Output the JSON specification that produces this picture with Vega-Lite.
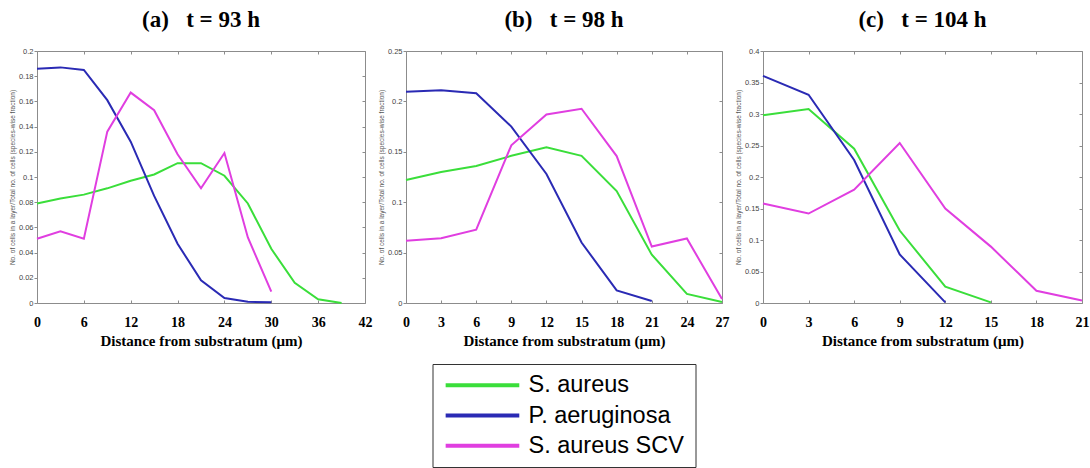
{
  "$schema": "https://vega.github.io/schema/vega-lite/v6.json",
  "padding": {"left": 8, "top": 8, "right": 0, "bottom": 0},
  "background": "white",
  "datasets": {
    "t93": [
      {"species": "S. aureus", "distance": 0, "fraction": 0.079},
      {"species": "S. aureus", "distance": 3, "fraction": 0.083},
      {"species": "S. aureus", "distance": 6, "fraction": 0.086},
      {"species": "S. aureus", "distance": 9, "fraction": 0.091},
      {"species": "S. aureus", "distance": 12, "fraction": 0.097},
      {"species": "S. aureus", "distance": 15, "fraction": 0.102},
      {"species": "S. aureus", "distance": 18, "fraction": 0.111},
      {"species": "S. aureus", "distance": 21, "fraction": 0.111},
      {"species": "S. aureus", "distance": 24, "fraction": 0.101},
      {"species": "S. aureus", "distance": 27, "fraction": 0.079},
      {"species": "S. aureus", "distance": 30, "fraction": 0.043},
      {"species": "S. aureus", "distance": 33, "fraction": 0.016},
      {"species": "S. aureus", "distance": 36, "fraction": 0.003},
      {"species": "S. aureus", "distance": 39, "fraction": 0.0},
      {"species": "P. aeruginosa", "distance": 0, "fraction": 0.186},
      {"species": "P. aeruginosa", "distance": 3, "fraction": 0.187},
      {"species": "P. aeruginosa", "distance": 6, "fraction": 0.185},
      {"species": "P. aeruginosa", "distance": 9, "fraction": 0.161},
      {"species": "P. aeruginosa", "distance": 12, "fraction": 0.128},
      {"species": "P. aeruginosa", "distance": 15, "fraction": 0.085},
      {"species": "P. aeruginosa", "distance": 18, "fraction": 0.047},
      {"species": "P. aeruginosa", "distance": 21, "fraction": 0.018},
      {"species": "P. aeruginosa", "distance": 24, "fraction": 0.004},
      {"species": "P. aeruginosa", "distance": 27, "fraction": 0.001},
      {"species": "P. aeruginosa", "distance": 30, "fraction": 0.0005},
      {"species": "S. aureus SCV", "distance": 0, "fraction": 0.051},
      {"species": "S. aureus SCV", "distance": 3, "fraction": 0.057},
      {"species": "S. aureus SCV", "distance": 6, "fraction": 0.051},
      {"species": "S. aureus SCV", "distance": 9, "fraction": 0.136},
      {"species": "S. aureus SCV", "distance": 12, "fraction": 0.167},
      {"species": "S. aureus SCV", "distance": 15, "fraction": 0.153},
      {"species": "S. aureus SCV", "distance": 18, "fraction": 0.118},
      {"species": "S. aureus SCV", "distance": 21, "fraction": 0.091},
      {"species": "S. aureus SCV", "distance": 24, "fraction": 0.119},
      {"species": "S. aureus SCV", "distance": 27, "fraction": 0.052},
      {"species": "S. aureus SCV", "distance": 30, "fraction": 0.009}
    ],
    "t98": [
      {"species": "S. aureus", "distance": 0, "fraction": 0.122},
      {"species": "S. aureus", "distance": 3, "fraction": 0.130},
      {"species": "S. aureus", "distance": 6, "fraction": 0.136},
      {"species": "S. aureus", "distance": 9, "fraction": 0.146},
      {"species": "S. aureus", "distance": 12, "fraction": 0.1545},
      {"species": "S. aureus", "distance": 15, "fraction": 0.146},
      {"species": "S. aureus", "distance": 18, "fraction": 0.111},
      {"species": "S. aureus", "distance": 21, "fraction": 0.048},
      {"species": "S. aureus", "distance": 24, "fraction": 0.009},
      {"species": "S. aureus", "distance": 27, "fraction": 0.001},
      {"species": "P. aeruginosa", "distance": 0, "fraction": 0.2095},
      {"species": "P. aeruginosa", "distance": 3, "fraction": 0.211},
      {"species": "P. aeruginosa", "distance": 6, "fraction": 0.208},
      {"species": "P. aeruginosa", "distance": 9, "fraction": 0.175},
      {"species": "P. aeruginosa", "distance": 12, "fraction": 0.128},
      {"species": "P. aeruginosa", "distance": 15, "fraction": 0.06},
      {"species": "P. aeruginosa", "distance": 18, "fraction": 0.0125},
      {"species": "P. aeruginosa", "distance": 21, "fraction": 0.002},
      {"species": "S. aureus SCV", "distance": 0, "fraction": 0.0617},
      {"species": "S. aureus SCV", "distance": 3, "fraction": 0.0643},
      {"species": "S. aureus SCV", "distance": 6, "fraction": 0.0727},
      {"species": "S. aureus SCV", "distance": 9, "fraction": 0.1565},
      {"species": "S. aureus SCV", "distance": 12, "fraction": 0.187},
      {"species": "S. aureus SCV", "distance": 15, "fraction": 0.1927},
      {"species": "S. aureus SCV", "distance": 18, "fraction": 0.1458},
      {"species": "S. aureus SCV", "distance": 21, "fraction": 0.056},
      {"species": "S. aureus SCV", "distance": 24, "fraction": 0.064},
      {"species": "S. aureus SCV", "distance": 27, "fraction": 0.004}
    ],
    "t104": [
      {"species": "S. aureus", "distance": 0, "fraction": 0.298},
      {"species": "S. aureus", "distance": 3, "fraction": 0.308},
      {"species": "S. aureus", "distance": 6, "fraction": 0.245},
      {"species": "S. aureus", "distance": 9, "fraction": 0.115},
      {"species": "S. aureus", "distance": 12, "fraction": 0.026},
      {"species": "S. aureus", "distance": 15, "fraction": 0.001},
      {"species": "P. aeruginosa", "distance": 0, "fraction": 0.3605},
      {"species": "P. aeruginosa", "distance": 3, "fraction": 0.3305},
      {"species": "P. aeruginosa", "distance": 6, "fraction": 0.227},
      {"species": "P. aeruginosa", "distance": 9, "fraction": 0.077},
      {"species": "P. aeruginosa", "distance": 12, "fraction": 0.001},
      {"species": "S. aureus SCV", "distance": 0, "fraction": 0.158},
      {"species": "S. aureus SCV", "distance": 3, "fraction": 0.142},
      {"species": "S. aureus SCV", "distance": 6, "fraction": 0.18},
      {"species": "S. aureus SCV", "distance": 9, "fraction": 0.254},
      {"species": "S. aureus SCV", "distance": 12, "fraction": 0.15},
      {"species": "S. aureus SCV", "distance": 15, "fraction": 0.0895},
      {"species": "S. aureus SCV", "distance": 18, "fraction": 0.0195},
      {"species": "S. aureus SCV", "distance": 21, "fraction": 0.004}
    ],
    "species": [
      {"species": "S. aureus"},
      {"species": "P. aeruginosa"},
      {"species": "S. aureus SCV"}
    ]
  },
  "config": {
    "view": {"stroke": "#8c8c8c", "strokeWidth": 1},
    "line": {"strokeWidth": 2},
    "title": {
      "font": "Liberation Serif",
      "fontSize": 23,
      "fontWeight": "bold",
      "color": "#000000",
      "anchor": "middle",
      "baseline": "alphabetic",
      "offset": 15
    },
    "axis": {"grid": false, "domain": false, "tickColor": "#8c8c8c"},
    "axisBottom": {
      "labelFont": "Liberation Serif",
      "labelFontSize": 14,
      "labelFontWeight": "bold",
      "labelColor": "#000000",
      "labelPadding": 15,
      "labelFlush": false,
      "tickSize": -3,
      "titleFont": "Liberation Serif",
      "titleFontSize": 15,
      "titleFontWeight": "bold",
      "titleColor": "#000000",
      "titlePadding": 4
    },
    "axisLeft": {
      "labelFont": "Liberation Sans",
      "labelFontSize": 7.5,
      "labelColor": "#444444",
      "labelPadding": 1,
      "tickSize": 3,
      "format": "~g",
      "titleFont": "Liberation Sans",
      "titleFontSize": 6.5,
      "titleFontWeight": "normal",
      "titleColor": "#555555",
      "titlePadding": 3
    },
    "axisTop": {"labels": false, "title": null, "tickSize": -3},
    "axisRight": {"labels": false, "title": null, "tickSize": -3}
  },
  "resolve": {"scale": {"color": "shared"}},
  "hconcat": [
    {
      "title": "(a)\u00a0\u00a0 t = 93 h",
      "width": 328,
      "height": 252,
      "data": {"name": "t93"},
      "layer": [
        {
          "mark": {"type": "line"},
          "encoding": {
            "x": {
              "field": "distance", "type": "quantitative",
              "scale": {"domain": [0, 42], "nice": false},
              "axis": {"orient": "bottom", "values": [0, 6, 12, 18, 24, 30, 36, 42], "title": "Distance from substratum (μm)"}
            },
            "y": {
              "field": "fraction", "type": "quantitative",
              "scale": {"domain": [0, 0.2], "nice": false},
              "axis": {"orient": "left", "values": [0, 0.02, 0.04, 0.06, 0.08, 0.1, 0.12, 0.14, 0.16, 0.18, 0.2], "title": "No. of cells in a layer/Total no. of cells (species-wise fraction)"}
            },
            "color": {
              "field": "species", "type": "nominal",
              "scale": {"domain": ["S. aureus", "P. aeruginosa", "S. aureus SCV"], "range": ["#3ade3a", "#2a2ab4", "#e03ee0"]},
              "legend": null
            }
          }
        },
        {
          "mark": {"type": "line", "opacity": 0},
          "encoding": {
            "x": {
              "field": "distance", "type": "quantitative",
              "scale": {"domain": [0, 42], "nice": false},
              "axis": {"orient": "top", "values": [0, 6, 12, 18, 24, 30, 36, 42]}
            },
            "y": {
              "field": "fraction", "type": "quantitative",
              "scale": {"domain": [0, 0.2], "nice": false},
              "axis": {"orient": "right", "values": [0, 0.02, 0.04, 0.06, 0.08, 0.1, 0.12, 0.14, 0.16, 0.18, 0.2]}
            },
            "detail": {"field": "species"}
          }
        }
      ],
      "resolve": {"axis": {"x": "independent", "y": "independent"}}
    },
    {
      "vconcat": [
        {
          "title": "(b)\u00a0\u00a0 t = 98 h",
          "width": 316,
          "height": 252,
          "data": {"name": "t98"},
          "layer": [
            {
              "mark": {"type": "line"},
              "encoding": {
                "x": {
                  "field": "distance", "type": "quantitative",
                  "scale": {"domain": [0, 27], "nice": false},
                  "axis": {"orient": "bottom", "values": [0, 3, 6, 9, 12, 15, 18, 21, 24, 27], "title": "Distance from substratum (μm)"}
                },
                "y": {
                  "field": "fraction", "type": "quantitative",
                  "scale": {"domain": [0, 0.25], "nice": false},
                  "axis": {"orient": "left", "values": [0, 0.05, 0.1, 0.15, 0.2, 0.25], "title": "No. of cells in a layer/Total no. of cells (species-wise fraction)"}
                },
                "color": {
                  "field": "species", "type": "nominal",
                  "scale": {"domain": ["S. aureus", "P. aeruginosa", "S. aureus SCV"], "range": ["#3ade3a", "#2a2ab4", "#e03ee0"]},
                  "legend": null
                }
              }
            },
            {
              "mark": {"type": "line", "opacity": 0},
              "encoding": {
                "x": {
                  "field": "distance", "type": "quantitative",
                  "scale": {"domain": [0, 27], "nice": false},
                  "axis": {"orient": "top", "values": [0, 3, 6, 9, 12, 15, 18, 21, 24, 27]}
                },
                "y": {
                  "field": "fraction", "type": "quantitative",
                  "scale": {"domain": [0, 0.25], "nice": false},
                  "axis": {"orient": "right", "values": [0, 0.05, 0.1, 0.15, 0.2, 0.25]}
                },
                "detail": {"field": "species"}
              }
            }
          ],
          "resolve": {"axis": {"x": "independent", "y": "independent"}}
        },
        {
          "width": 263,
          "height": 103,
          "view": {"stroke": "#333333", "strokeWidth": 1},
          "data": {"name": "species"},
          "encoding": {
            "y": {
              "field": "species", "type": "nominal",
              "scale": {"type": "point", "domain": ["S. aureus", "P. aeruginosa", "S. aureus SCV"], "padding": 0.7},
              "axis": null
            }
          },
          "layer": [
            {
              "mark": {"type": "rule", "strokeWidth": 4},
              "encoding": {
                "x": {"datum": 0.05, "type": "quantitative", "scale": {"domain": [0, 1], "nice": false}, "axis": null},
                "x2": {"datum": 0.33},
                "color": {
                  "field": "species", "type": "nominal",
                  "scale": {"domain": ["S. aureus", "P. aeruginosa", "S. aureus SCV"], "range": ["#3ade3a", "#2a2ab4", "#e03ee0"]},
                  "legend": null
                }
              }
            },
            {
              "mark": {"type": "text", "align": "left", "baseline": "middle", "font": "Liberation Sans", "fontSize": 23.5, "color": "#000000"},
              "encoding": {
                "x": {"datum": 0.365, "type": "quantitative"},
                "text": {"field": "species"}
              }
            }
          ]
        }
      ],
      "spacing": 61,
      "center": true,
      "bounds": "flush"
    },
    {
      "title": "(c)\u00a0\u00a0 t = 104 h",
      "width": 319,
      "height": 252,
      "data": {"name": "t104"},
      "layer": [
        {
          "mark": {"type": "line"},
          "encoding": {
            "x": {
              "field": "distance", "type": "quantitative",
              "scale": {"domain": [0, 21], "nice": false},
              "axis": {"orient": "bottom", "values": [0, 3, 6, 9, 12, 15, 18, 21], "title": "Distance from substratum (μm)"}
            },
            "y": {
              "field": "fraction", "type": "quantitative",
              "scale": {"domain": [0, 0.4], "nice": false},
              "axis": {"orient": "left", "values": [0, 0.05, 0.1, 0.15, 0.2, 0.25, 0.3, 0.35, 0.4], "title": "No. of cells in a layer/Total no. of cells (species-wise fraction)"}
            },
            "color": {
              "field": "species", "type": "nominal",
              "scale": {"domain": ["S. aureus", "P. aeruginosa", "S. aureus SCV"], "range": ["#3ade3a", "#2a2ab4", "#e03ee0"]},
              "legend": null
            }
          }
        },
        {
          "mark": {"type": "line", "opacity": 0},
          "encoding": {
            "x": {
              "field": "distance", "type": "quantitative",
              "scale": {"domain": [0, 21], "nice": false},
              "axis": {"orient": "top", "values": [0, 3, 6, 9, 12, 15, 18, 21]}
            },
            "y": {
              "field": "fraction", "type": "quantitative",
              "scale": {"domain": [0, 0.4], "nice": false},
              "axis": {"orient": "right", "values": [0, 0.05, 0.1, 0.15, 0.2, 0.25, 0.3, 0.35, 0.4]}
            },
            "detail": {"field": "species"}
          }
        }
      ],
      "resolve": {"axis": {"x": "independent", "y": "independent"}}
    }
  ],
  "spacing": 4
}
